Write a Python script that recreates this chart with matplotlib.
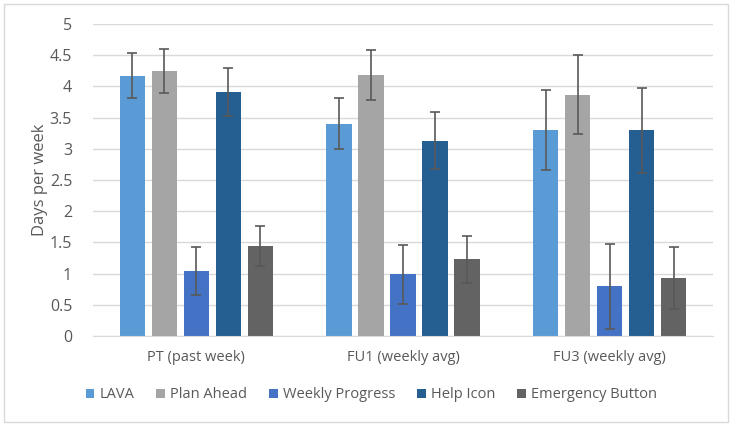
import numpy as np
import matplotlib.pyplot as plt
from matplotlib.patches import Rectangle

categories = ["PT (past week)", "FU1 (weekly avg)", "FU3 (weekly avg)"]
series = ["LAVA", "Plan Ahead", "Weekly Progress", "Help Icon", "Emergency Button"]
colors = ["#5B9BD5", "#A5A5A5", "#4472C4", "#255E91", "#636363"]

lava = [4.17, 3.40, 3.30]
plan_ahead = [4.25, 4.18, 3.87]
weekly_progress = [1.04, 0.99, 0.80]
help_icon = [3.91, 3.13, 3.30]
emergency = [1.44, 1.23, 0.93]

lava_err = [0.36, 0.41, 0.64]
plan_ahead_err = [0.35, 0.40, 0.63]
weekly_progress_err = [0.38, 0.47, 0.68]
help_icon_err = [0.38, 0.46, 0.68]
emergency_err = [0.32, 0.38, 0.50]

values = [lava, plan_ahead, weekly_progress, help_icon, emergency]
errors = [lava_err, plan_ahead_err, weekly_progress_err, help_icon_err, emergency_err]

plt.rcParams['font.family'] = ['Open Sans', 'DejaVu Sans']
txt = "#595959"

fig = plt.figure(figsize=(7.38, 4.26), dpi=100)
fig.patches.append(Rectangle((4 / 738, 4 / 426), 724 / 738, 418 / 426, transform=fig.transFigure,
                             fill=False, edgecolor="#D9D9D9", linewidth=1))
ax = fig.add_axes([93 / 738, 1 - 336 / 426, 620 / 738, 312 / 426])

x = np.arange(len(categories))
pitch = 0.155
width = 0.122
for i, (name, vals, errs) in enumerate(zip(series, values, errors)):
    pos = x + (i - 2) * pitch
    ax.bar(pos, vals, width, color=colors[i], label=name, zorder=2)
    ax.errorbar(pos, vals, yerr=errs, fmt="none", ecolor="#595959", elinewidth=1.2,
                capsize=3.5, capthick=1.2, zorder=3)

ax.set_xlim(-0.5, 2.5)
ax.set_ylim(0, 5)
ax.set_yticks(np.arange(0, 5.01, 0.5))
ax.set_yticklabels([f"{v:g}" for v in np.arange(0, 5.01, 0.5)])
ax.set_xticks(x)
ax.set_xticklabels(categories)
ax.grid(axis="y", color="#D9D9D9", linewidth=1, zorder=0)
ax.set_axisbelow(True)
for s in ["top", "right", "left"]:
    ax.spines[s].set_visible(False)
ax.spines["bottom"].set_color("#D9D9D9")
ax.tick_params(axis="both", length=0, colors=txt)
ax.tick_params(axis="x", pad=10, labelsize=10.5)
ax.tick_params(axis="y", pad=15, labelsize=11.5)
ax.set_ylabel("Days per week", fontsize=12, color=txt, va="center")
ax.yaxis.set_label_coords(-0.085, 0.5)

handles, labels = ax.get_legend_handles_labels()
fig.legend(handles, labels, loc="center", bbox_to_anchor=(0.503, 1 - 395 / 426), ncol=5,
           frameon=False, fontsize=10.5, handlelength=0.6, handleheight=0.6,
           handletextpad=0.35, columnspacing=1.5, labelcolor=txt)

fig.savefig("out.png", dpi=100)
